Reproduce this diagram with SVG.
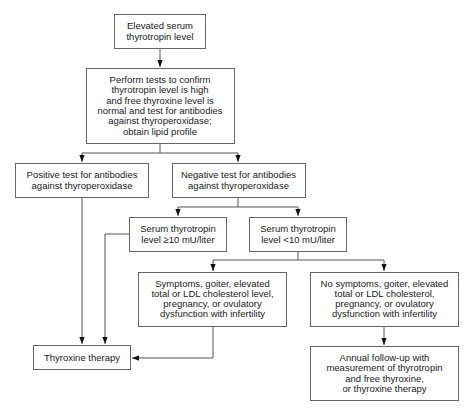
<svg xmlns="http://www.w3.org/2000/svg" width="474" height="415" viewBox="0 0 474 415">
<defs>
<style>
.box{fill:#fff;stroke:#666;stroke-width:1}
.t{font-family:"Liberation Sans",Arial,sans-serif;font-size:9.5px;fill:#1a1a1a;text-anchor:middle}
.c{fill:none;stroke:#555;stroke-width:1}
</style>
<marker id="ah" viewBox="0 0 8 8" refX="8" refY="4" markerWidth="7" markerHeight="7" markerUnits="userSpaceOnUse" orient="auto">
<path d="M0,1 L8,4 L0,7 Z" fill="#111"/>
</marker>
</defs>
<rect width="474" height="415" fill="#fff"/>
<g id="connectors">
<path class="c" d="M160,48 V67" marker-end="url(#ah)"/>
<path class="c" d="M160,143 V153 M82,153 H238"/>
<path class="c" d="M82,153 V162" marker-end="url(#ah)"/>
<path class="c" d="M238,153 V162" marker-end="url(#ah)"/>
<path class="c" d="M238,197 V207 M178,207 H298"/>
<path class="c" d="M178,207 V216" marker-end="url(#ah)"/>
<path class="c" d="M298,207 V216" marker-end="url(#ah)"/>
<path class="c" d="M298,251 V260 M213,260 H384"/>
<path class="c" d="M213,260 V271" marker-end="url(#ah)"/>
<path class="c" d="M384,260 V271" marker-end="url(#ah)"/>
<path class="c" d="M82,197 V344" marker-end="url(#ah)"/>
<path class="c" d="M129,234 H105 V344" marker-end="url(#ah)"/>
<path class="c" d="M213,326 V358 H132" marker-end="url(#ah)"/>
<path class="c" d="M384,326 V345" marker-end="url(#ah)"/>
</g>
<g id="n1">
<rect class="box" x="114.5" y="14.5" width="91" height="34"/>
<text class="t" x="160" y="29">Elevated serum</text>
<text class="t" x="160" y="39.5">thyrotropin level</text>
</g>
<g id="n2">
<rect class="box" x="86.5" y="68.5" width="148" height="75"/>
<text class="t" x="160" y="83">Perform tests to confirm</text>
<text class="t" x="160" y="93.3">thyrotropin level is high</text>
<text class="t" x="160" y="103.6">and free thyroxine level is</text>
<text class="t" x="160" y="113.9">normal and test for antibodies</text>
<text class="t" x="160" y="124.2">against thyroperoxidase;</text>
<text class="t" x="160" y="134.5">obtain lipid profile</text>
</g>
<g id="n3">
<rect class="box" x="15.5" y="163.5" width="133" height="34"/>
<text class="t" x="82" y="178">Positive test for antibodies</text>
<text class="t" x="82" y="188.5">against thyroperoxidase</text>
</g>
<g id="n4">
<rect class="box" x="172.5" y="163.5" width="133" height="34"/>
<text class="t" x="238.5" y="178">Negative test for antibodies</text>
<text class="t" x="238.5" y="188.5">against thyroperoxidase</text>
</g>
<g id="n5">
<rect class="box" x="129.5" y="217.5" width="97" height="34"/>
<text class="t" x="178" y="232">Serum thyrotropin</text>
<text class="t" x="178" y="242.5">level ≥10 mU/liter</text>
</g>
<g id="n6">
<rect class="box" x="249.5" y="217.5" width="97" height="34"/>
<text class="t" x="298" y="232">Serum thyrotropin</text>
<text class="t" x="298" y="242.5">level &lt;10 mU/liter</text>
</g>
<g id="n7">
<rect class="box" x="138.5" y="272.5" width="148" height="54"/>
<text class="t" x="212.5" y="286.5">Symptoms, goiter, elevated</text>
<text class="t" x="212.5" y="296.8">total or LDL cholesterol level,</text>
<text class="t" x="212.5" y="307.1">pregnancy, or ovulatory</text>
<text class="t" x="212.5" y="317.4">dysfunction with infertility</text>
</g>
<g id="n8">
<rect class="box" x="310.5" y="272.5" width="148" height="54"/>
<text class="t" x="384.5" y="286.5">No symptoms, goiter, elevated</text>
<text class="t" x="384.5" y="296.8">total or LDL cholesterol,</text>
<text class="t" x="384.5" y="307.1">pregnancy, or ovulatory</text>
<text class="t" x="384.5" y="317.4">dysfunction with infertility</text>
</g>
<g id="n9">
<rect class="box" x="33.5" y="345.5" width="97" height="24"/>
<text class="t" x="82" y="361">Thyroxine therapy</text>
</g>
<g id="n10">
<rect class="box" x="310.5" y="346.5" width="148" height="54"/>
<text class="t" x="384.5" y="361">Annual follow-up with</text>
<text class="t" x="384.5" y="371.3">measurement of thyrotropin</text>
<text class="t" x="384.5" y="381.6">and free thyroxine,</text>
<text class="t" x="384.5" y="391.9">or thyroxine therapy</text>
</g>
</svg>
